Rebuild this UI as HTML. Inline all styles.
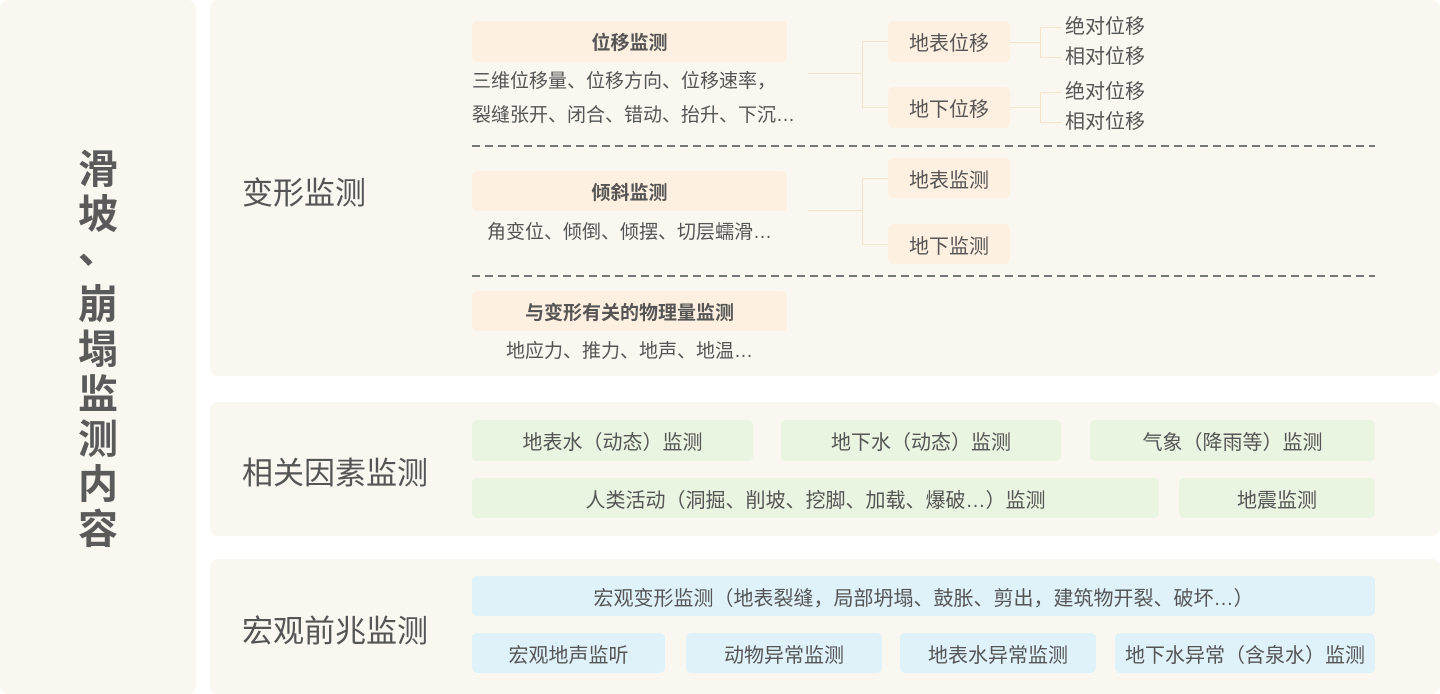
<!DOCTYPE html>
<html><head><meta charset="utf-8"><style>
body{margin:0;width:1440px;height:694px;background:#fff;position:relative;overflow:hidden;font-family:"Liberation Sans","Noto Sans CJK SC",sans-serif;color:#5a5a5a}
div{position:absolute;box-sizing:border-box}
.p{background:#faf7f1;border-radius:8px}
.b{border-radius:5px;display:flex;align-items:center;justify-content:center;font-size:20px;color:#555;white-space:nowrap}
.o{background:#fdf0e1}
.g{background:#e9f4e1}
.c{background:#dff2f9}
.bold{font-weight:bold;font-size:19px}
.t{font-size:19px;white-space:nowrap;color:#555;line-height:34px}
.s{font-size:20px;white-space:nowrap;color:#555;line-height:34px}
.lbl{font-size:31px;color:#555;white-space:nowrap}
.h{height:1px;background:#f7e3cc}
.v{width:1px;background:#f7e3cc}
.d{height:1.5px;background:repeating-linear-gradient(90deg,#777 0 8px,transparent 8px 13px)}
.ch{left:58px;width:80px;text-align:center;font-size:40px;font-weight:bold;line-height:45px;color:#5a5a5a}
</style></head><body>
<div class="p" style="left:0;top:0;width:196px;height:694px"></div>
<div class="ch" style="top:148px">滑</div>
<div class="ch" style="top:193px">坡</div>
<div class="ch" style="top:228px">、</div>
<div class="ch" style="top:283px">崩</div>
<div class="ch" style="top:328px">塌</div>
<div class="ch" style="top:373px">监</div>
<div class="ch" style="top:418px">测</div>
<div class="ch" style="top:463px">内</div>
<div class="ch" style="top:508px">容</div>

<div class="p" style="left:210px;top:0;width:1230px;height:376px"></div>
<div class="p" style="left:210px;top:402px;width:1230px;height:134px"></div>
<div class="p" style="left:210px;top:559px;width:1230px;height:135px"></div>

<div class="lbl" style="left:242px;top:168px">变形监测</div>
<div class="lbl" style="left:242px;top:448px">相关因素监测</div>
<div class="lbl" style="left:242px;top:606px">宏观前兆监测</div>

<div class="b o bold" style="left:472px;top:21px;width:315px;height:41px">位移监测</div>
<div class="t" style="left:472px;top:65px">三维位移量、位移方向、位移速率，</div>
<div class="t" style="left:472px;top:99px">裂缝张开、闭合、错动、抬升、下沉…</div>
<div class="h" style="left:808px;top:73px;width:54px"></div>
<div class="v" style="left:862px;top:41px;height:67px"></div>
<div class="h" style="left:862px;top:41px;width:26px"></div>
<div class="h" style="left:862px;top:107px;width:26px"></div>
<div class="b o" style="left:888px;top:21px;width:122px;height:41px">地表位移</div>
<div class="b o" style="left:888px;top:87px;width:122px;height:41px">地下位移</div>
<div class="h" style="left:1010px;top:42px;width:30px"></div>
<div class="v" style="left:1040px;top:27px;height:31px"></div>
<div class="h" style="left:1040px;top:27px;width:22px"></div>
<div class="h" style="left:1040px;top:57px;width:22px"></div>
<div class="h" style="left:1010px;top:107px;width:30px"></div>
<div class="v" style="left:1040px;top:92px;height:31px"></div>
<div class="h" style="left:1040px;top:92px;width:22px"></div>
<div class="h" style="left:1040px;top:122px;width:22px"></div>
<div class="s" style="left:1065px;top:10px">绝对位移</div>
<div class="s" style="left:1065px;top:40px">相对位移</div>
<div class="s" style="left:1065px;top:75px">绝对位移</div>
<div class="s" style="left:1065px;top:105px">相对位移</div>

<div class="d" style="left:472px;top:145px;width:903px"></div>

<div class="b o bold" style="left:472px;top:171px;width:315px;height:40px">倾斜监测</div>
<div class="t" style="left:472px;top:216px;width:315px;text-align:center">角变位、倾倒、倾摆、切层蠕滑…</div>
<div class="h" style="left:808px;top:210px;width:54px"></div>
<div class="v" style="left:862px;top:178px;height:67px"></div>
<div class="h" style="left:862px;top:178px;width:26px"></div>
<div class="h" style="left:862px;top:244px;width:26px"></div>
<div class="b o" style="left:888px;top:158px;width:122px;height:40px">地表监测</div>
<div class="b o" style="left:888px;top:224px;width:122px;height:40px">地下监测</div>

<div class="d" style="left:472px;top:275px;width:903px"></div>

<div class="b o bold" style="left:472px;top:291px;width:315px;height:40px">与变形有关的物理量监测</div>
<div class="t" style="left:472px;top:335px;width:315px;text-align:center">地应力、推力、地声、地温…</div>

<div class="b g" style="left:472px;top:420px;width:281px;height:41px">地表水（动态）监测</div>
<div class="b g" style="left:781px;top:420px;width:280px;height:41px">地下水（动态）监测</div>
<div class="b g" style="left:1090px;top:420px;width:285px;height:41px">气象（降雨等）监测</div>
<div class="b g" style="left:472px;top:478px;width:687px;height:40px">人类活动（洞掘、削坡、挖脚、加载、爆破…）监测</div>
<div class="b g" style="left:1179px;top:478px;width:196px;height:40px">地震监测</div>

<div class="b c" style="left:472px;top:576px;width:903px;height:40px">宏观变形监测（地表裂缝，局部坍塌、鼓胀、剪出，建筑物开裂、破坏…）</div>
<div class="b c" style="left:472px;top:633px;width:193px;height:40px">宏观地声监听</div>
<div class="b c" style="left:686px;top:633px;width:196px;height:40px">动物异常监测</div>
<div class="b c" style="left:900px;top:633px;width:196px;height:40px">地表水异常监测</div>
<div class="b c" style="left:1115px;top:633px;width:260px;height:40px">地下水异常（含泉水）监测</div>
</body></html>
